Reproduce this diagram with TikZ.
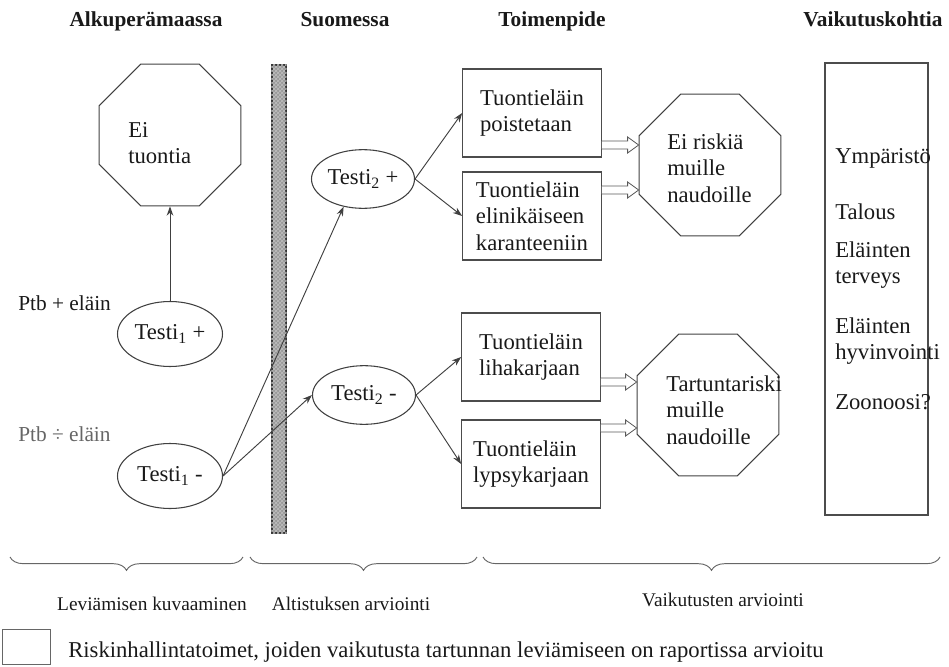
\documentclass[tikz,border=0pt]{standalone}
\usepackage{fontspec}
\setmainfont{Liberation Serif}
\usetikzlibrary{shapes.geometric,arrows.meta,decorations.pathreplacing,patterns,calc}
\newcommand\hollowarr[2]{%
  \draw[hollow] ($(#1)+(0,-4)$) -- ($(#2)+(-11,-4)$) -- ($(#2)+(-11,-8)$) -- (#2)
     -- ($(#2)+(-11,8)$) -- ($(#2)+(-11,4)$) -- ($(#1)+(0,4)$);}
\begin{document}
\begin{tikzpicture}[x=0.75pt,y=-0.75pt,
  every node/.style={font=\fontsize{17}{20}\selectfont, inner sep=0pt, text=black!90},
  ln/.style={draw=black!75, line width=0.7pt},
  arr/.style={ln, -{Stealth[length=7pt,width=5pt]}},
  boxst/.style={draw=black!70, line width=0.8pt, rectangle, minimum width=104pt, minimum height=66pt, align=left},
  ell/.style={draw=black!75, line width=0.8pt, ellipse},
  oct/.style={draw=black!75, line width=0.8pt, regular polygon, regular polygon sides=8, minimum size=115pt},
  hdr/.style={font=\fontsize{16}{19}\selectfont\bfseries, anchor=base},
  lbl/.style={align=left, anchor=west},
  bot/.style={font=\fontsize{14.5}{17}\selectfont},
  hollow/.style={draw=black!65, line width=0.6pt, fill=white},
  brc/.style={draw=black!60, line width=0.7pt, decorate, decoration={brace, mirror, amplitude=10pt, aspect=0.5}},
]
\useasboundingbox (0,0) rectangle (949,667);

% headers
\node[hdr] (h1) at (146,27) {Alkuperämaassa};
\node[hdr] (h2) at (345,27) {Suomessa};
\node[hdr] (h3) at (552,27) {Toimenpide};
\node[hdr] (h4) at (873,27) {Vaikutuskohtia};

% left column
\node[oct] (eit) at (170,135) {};
\node[lbl] (eitt) at (128,143) {Ei\\tuontia};
\node[ell, minimum width=78.75pt, minimum height=48.75pt] (t1p) at (170,334) {Testi\textsubscript{1} +};
\node[ell, minimum width=78.75pt, minimum height=48.75pt] (t1m) at (170,476) {Testi\textsubscript{1} -};
\node[anchor=base west, font=\fontsize{16}{19}\selectfont] (ptbp) at (18,310) {Ptb + eläin};
\node[anchor=base west, font=\fontsize{16}{19}\selectfont, text=black!60] (ptbm) at (18,441) {Ptb ÷ eläin};

% bar
\node[draw=black!80, fill=black!40, line width=0.8pt, minimum width=10.5pt, minimum height=351pt] (bar) at (279,299) {};
\path[pattern=crosshatch, pattern color=black!25] (bar.south west) rectangle (bar.north east);

% second tests
\node[ell, minimum width=77.25pt, minimum height=44pt] (t2p) at (363,179) {Testi\textsubscript{2} +};
\node[ell, minimum width=77.25pt, minimum height=44pt] (t2m) at (364,395) {Testi\textsubscript{2} -};

% measures
\node[boxst] (b1) at (532,113) {Tuontieläin\\poistetaan};
\node[boxst] (b2) at (532,216) {Tuontieläin\\elinikäiseen\\karanteeniin};
\node[boxst] (b3) at (531,357) {Tuontieläin\\lihakarjaan};
\node[boxst] (b4) at (531,464) {Tuontieläin\\lypsykarjaan};

% outcome octagons
\node[oct] (orisk) at (710,165) {};
\node[lbl] (oriskt) at (667,168) {Ei riskiä\\muille\\naudoille};
\node[oct] (otart) at (708,405) {};
\node[lbl] (otartt) at (666,410) {Tartuntariski\\muille\\naudoille};

% effects box
\node[boxst, minimum width=77.25pt, minimum height=339pt] (vb) at (876.5,289) {};
\node[lbl] (v1) at (835,158) {Ympäristö};
\node[lbl] (v2) at (835,212) {Talous};
\node[lbl] (v3) at (835,265) {Eläinten\\terveys};
\node[lbl] (v4) at (835,341) {Eläinten\\hyvinvointi};
\node[lbl] (v5) at (835,402) {Zoonoosi?};

% connectors
\draw[arr] (t1p.north) -- (eit.south);
\draw[arr] (t1m.east) -- (t2p.-125);
\draw[arr] (t1m.east) -- (t2m.west);
\draw[arr] (t2p.east) -- (b1.west);
\draw[arr] (t2p.east) -- (b2.west);
\draw[arr] (t2m.east) -- (b3.west);
\draw[arr] (t2m.east) -- (b4.west);

% hollow arrows
\coordinate (h1s) at ($(b1.east)+(0,32)$);
\coordinate (h1e) at (orisk.west |- h1s);
\coordinate (h2s) at ($(b2.east)+(0,-26)$);
\coordinate (h2e) at (orisk.west |- h2s);
\coordinate (h3s) at ($(b3.east)+(0,25)$);
\coordinate (h3e) at (otart.west |- h3s);
\coordinate (h4s) at ($(b4.east)+(0,-36)$);
\coordinate (h4e) at (otart.west |- h4s);
\hollowarr{h1s}{h1e}
\hollowarr{h2s}{h2e}
\hollowarr{h3s}{h3e}
\hollowarr{h4s}{h4e}

% braces
\coordinate (br1a) at (10,557);  \coordinate (br1b) at (243,557);
\coordinate (br2a) at (250,557); \coordinate (br2b) at (477,557);
\coordinate (br3a) at (483,557); \coordinate (br3b) at (940,557);
\draw[brc] (br1a) -- (br1b);
\draw[brc] (br2a) -- (br2b);
\draw[brc] (br3a) -- (br3b);
\node[bot] (l1) at (152,604) {Leviämisen kuvaaminen};
\node[bot] (l2) at (351,604) {Altistuksen arviointi};
\node[bot] (l3) at (723,600) {Vaikutusten arviointi};

% legend
\node[draw=black!60, line width=0.6pt, minimum width=36pt, minimum height=26pt] (leg) at (26,647) {};
\node[anchor=west] (legt) at (68,652) {Riskinhallintatoimet, joiden vaikutusta tartunnan leviämiseen on raportissa arvioitu};
\end{tikzpicture}
\end{document}
